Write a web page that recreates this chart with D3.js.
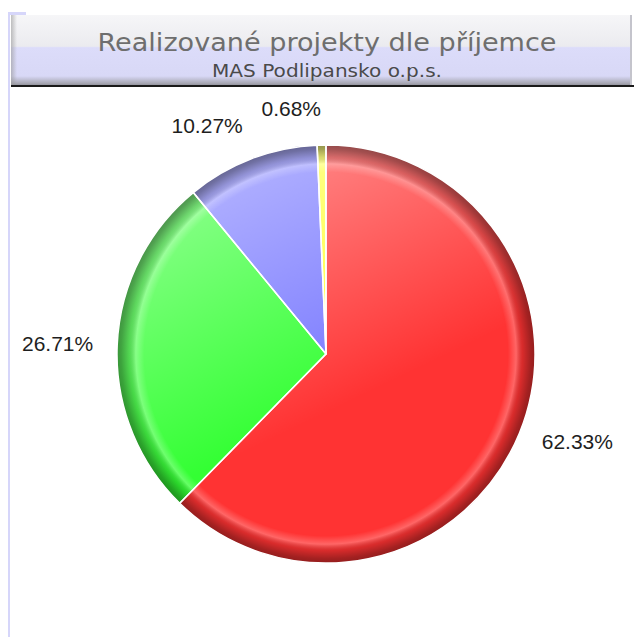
<!DOCTYPE html>
<html>
<head>
<meta charset="utf-8">
<script src="https://cdn.jsdelivr.net/npm/d3@7"></script>
<style>
  html, body { margin: 0; padding: 0; background: #fff; }
  svg { display: block; }
</style>
</head>
<body>
<div id="chart"></div>
<script>
// data
const categories = ["A", "B", "C", "D"];
const values = [62.33, 26.71, 10.27, 0.68];
const labels = ["62.33%", "26.71%", "10.27%", "0.68%"];
const colors = ["#ff3333", "#33ff33", "#7777ff", "#ffff33"];
const title = "Realizované projekty dle příjemce";
const subtitle = "MAS Podlipansko o.p.s.";

const width = 634, height = 637;
const cx = 326, cy = 354, radius = 209;

const svg = d3.select("#chart").append("svg")
  .attr("width", width)
  .attr("height", height);

const defs = svg.append("defs");

// title box gradient
const tg = defs.append("linearGradient").attr("id", "titleGrad")
  .attr("x1", 0).attr("y1", 0).attr("x2", 0).attr("y2", 1);
tg.append("stop").attr("offset", "0%").attr("stop-color", "#f6f6f8");
tg.append("stop").attr("offset", "44%").attr("stop-color", "#ebebef");
tg.append("stop").attr("offset", "46%").attr("stop-color", "#dcdcfa");
tg.append("stop").attr("offset", "86%").attr("stop-color", "#d8d8f6");
tg.append("stop").attr("offset", "96%").attr("stop-color", "#a8a8b4");
tg.append("stop").attr("offset", "100%").attr("stop-color", "#8a8a94");

// left shading of the title box
const lg = defs.append("linearGradient").attr("id", "titleSide")
  .attr("x1", 0).attr("y1", 0).attr("x2", 1).attr("y2", 0);
lg.append("stop").attr("offset", "0%").attr("stop-color", "#999").attr("stop-opacity", 0.6);
lg.append("stop").attr("offset", "100%").attr("stop-color", "#999").attr("stop-opacity", 0);

// lavender frame line on the left
svg.append("rect").attr("x", 8).attr("y", 12).attr("width", 2).attr("height", height - 12)
  .attr("fill", "#d6d6fa");
svg.append("rect").attr("x", 8).attr("y", 12).attr("width", 18).attr("height", 3)
  .attr("fill", "#d6d6fa");

// title box
svg.append("rect").attr("x", 11).attr("y", 15).attr("width", 621).attr("height", 71)
  .attr("fill", "url(#titleGrad)");
svg.append("rect").attr("x", 11).attr("y", 15).attr("width", 6).attr("height", 71)
  .attr("fill", "url(#titleSide)");
svg.append("rect").attr("x", 630).attr("y", 15).attr("width", 2).attr("height", 71)
  .attr("fill", "#c4c4cc");
svg.append("rect").attr("x", 11).attr("y", 85).attr("width", 623).attr("height", 2)
  .attr("fill", "#1a1a1a");

svg.append("text")
  .attr("x", 327).attr("y", 51)
  .attr("text-anchor", "middle")
  .attr("font-family", "DejaVu Sans, Verdana, sans-serif")
  .attr("font-size", 25)
  .attr("textLength", 459)
  .attr("lengthAdjust", "spacingAndGlyphs")
  .attr("fill", "#6e6e6e")
  .text(title);

svg.append("text")
  .attr("x", 327).attr("y", 77)
  .attr("text-anchor", "middle")
  .attr("font-family", "DejaVu Sans, Verdana, sans-serif")
  .attr("font-size", 17)
  .attr("textLength", 230)
  .attr("lengthAdjust", "spacingAndGlyphs")
  .attr("fill", "#4a4a4a")
  .text(subtitle);

// pie shading: rim bevel + light top
const rg = defs.append("radialGradient").attr("id", "rim")
  .attr("gradientUnits", "userSpaceOnUse")
  .attr("cx", 0).attr("cy", 0).attr("r", radius);
rg.append("stop").attr("offset", "0%").attr("stop-color", "#fff").attr("stop-opacity", 0);
rg.append("stop").attr("offset", "87%").attr("stop-color", "#fff").attr("stop-opacity", 0);
rg.append("stop").attr("offset", "91%").attr("stop-color", "#fff").attr("stop-opacity", 0.25);
rg.append("stop").attr("offset", "94%").attr("stop-color", "#000").attr("stop-opacity", 0.15);
rg.append("stop").attr("offset", "98%").attr("stop-color", "#000").attr("stop-opacity", 0.36);
rg.append("stop").attr("offset", "100%").attr("stop-color", "#000").attr("stop-opacity", 0.42);

const sg = defs.append("linearGradient").attr("id", "sheen")
  .attr("gradientUnits", "userSpaceOnUse")
  .attr("x1", -80).attr("y1", -radius).attr("x2", 40).attr("y2", 40);
sg.append("stop").attr("offset", "0%").attr("stop-color", "#fff").attr("stop-opacity", 0.45);
sg.append("stop").attr("offset", "100%").attr("stop-color", "#fff").attr("stop-opacity", 0);

const pie = d3.pie().sort(null).value(d => d)(values);
const arc = d3.arc().innerRadius(0).outerRadius(radius);

const g = svg.append("g").attr("transform", `translate(${cx},${cy})`);

g.selectAll("path.base").data(pie).enter().append("path")
  .attr("class", "base")
  .attr("d", arc)
  .attr("fill", (d, i) => colors[i]);

g.selectAll("path.sheen").data(pie).enter().append("path")
  .attr("class", "sheen")
  .attr("d", arc)
  .attr("fill", "url(#sheen)");

g.selectAll("path.rim").data(pie).enter().append("path")
  .attr("class", "rim")
  .attr("d", arc)
  .attr("fill", "url(#rim)");

g.selectAll("path.edge").data(pie).enter().append("path")
  .attr("class", "edge")
  .attr("d", arc)
  .attr("fill", "none")
  .attr("stroke", "#fff")
  .attr("stroke-width", 1.5)
  .attr("stroke-linejoin", "round");

// labels
const labelArc = d3.arc().innerRadius(radius + 24).outerRadius(radius + 24);
g.selectAll("text.lbl").data(pie).enter().append("text")
  .attr("class", "lbl")
  .each(function (d, i) {
    const [x, y] = labelArc.centroid(d);
    const mid = (d.startAngle + d.endAngle) / 2;
    const up = Math.max(0, Math.cos(mid)) * 12;
    d3.select(this)
      .attr("x", x)
      .attr("y", y - up)
      .attr("dy", "0.35em")
      .attr("text-anchor", Math.sin(mid) >= 0 ? "start" : "end")
      .text(labels[i]);
  })
  .attr("font-family", "Liberation Sans, Arial, sans-serif")
  .attr("font-size", 21)
  .attr("fill", "#1e1e1e");
</script>
</body>
</html>
